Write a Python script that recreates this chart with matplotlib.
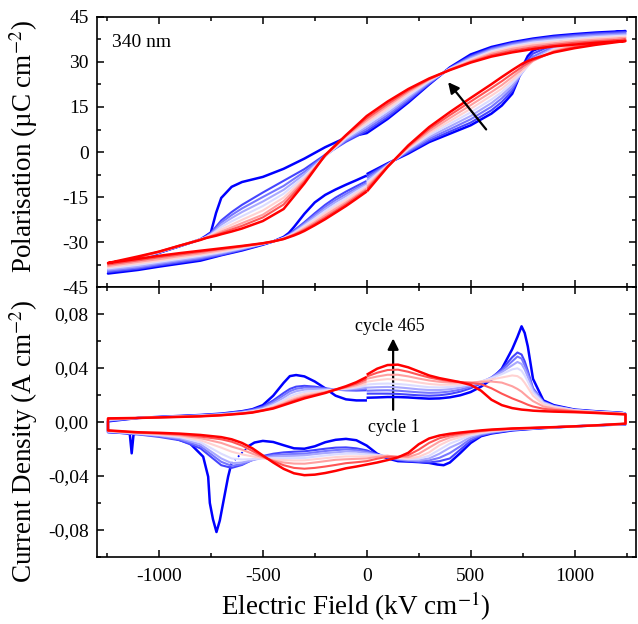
import matplotlib
matplotlib.use("Agg")
import matplotlib.pyplot as plt
from matplotlib.ticker import FixedLocator, MultipleLocator, FuncFormatter

plt.rcParams["font.family"] = ["Liberation Serif", "DejaVu Serif"]
plt.rcParams["mathtext.fontset"] = "stix"
plt.rcParams["axes.unicode_minus"] = False

# cycle 1 (blue) ... cycle 465 (red)
CYCLE_COLORS = ["#0000ff", "#4444ff", "#7777ff", "#a8a8ff", "#dcdcff",
                "#ffd2d2", "#ffa0a0", "#ff5555", "#ff0000"]

# ---------------- polarisation loops (uC cm-2) ----------------
# ascending field, -Emax -> 0
E_P_NEG = [-1245, -1100, -1000, -900, -800, -700, -600, -500, -450, -400,
           -375, -350, -325, -300, -250, -200, -150, -100, -50, -5]
P_NEG = [
    [-40.5, -39.3, -38.2, -37.2, -36.2, -34.4, -32.8, -30.9, -29.8, -28.3, -27.0, -25.0, -22.8, -20.6, -16.8, -14.3, -12.5, -10.9, -9.4, -8.0],
    [-40.0, -38.9, -37.8, -36.8, -35.8, -34.3, -32.6, -30.8, -29.8, -28.5, -27.5, -26.2, -24.8, -23.4, -20.4, -17.6, -15.2, -13.2, -11.4, -9.8],
    [-39.6, -38.5, -37.4, -36.4, -35.4, -34.0, -32.4, -30.7, -29.8, -28.6, -27.7, -26.5, -25.1, -23.8, -21.0, -18.3, -16.0, -14.0, -12.1, -10.4],
    [-39.2, -38.1, -37.0, -36.0, -35.0, -33.7, -32.2, -30.6, -29.8, -28.7, -27.8, -26.7, -25.5, -24.2, -21.6, -19.0, -16.7, -14.7, -12.6, -10.9],
    [-38.8, -37.6, -36.6, -35.6, -34.6, -33.4, -32.0, -30.6, -29.8, -28.7, -27.9, -27.0, -25.8, -24.6, -22.2, -19.7, -17.5, -15.4, -13.2, -11.4],
    [-38.4, -37.1, -36.2, -35.2, -34.2, -33.1, -31.8, -30.5, -29.8, -28.8, -28.1, -27.2, -26.2, -25.0, -22.8, -20.4, -18.2, -16.1, -13.8, -11.9],
    [-38.0, -36.6, -35.7, -34.7, -33.8, -32.7, -31.6, -30.5, -29.8, -28.9, -28.2, -27.4, -26.5, -25.5, -23.4, -21.1, -18.9, -16.8, -14.5, -12.4],
    [-37.5, -36.1, -35.1, -34.2, -33.3, -32.3, -31.4, -30.4, -29.8, -29.0, -28.3, -27.6, -26.8, -25.9, -23.9, -21.8, -19.6, -17.4, -15.0, -12.9],
    [-37.0, -35.6, -34.6, -33.7, -32.9, -32.1, -31.3, -30.4, -29.8, -29.0, -28.4, -27.8, -27.1, -26.3, -24.4, -22.4, -20.2, -18.0, -15.6, -13.4],
]
# ascending field, 0 -> +Emax
E_P_POS = [5, 100, 200, 300, 400, 500, 600, 650, 700, 725, 750, 775, 800, 900, 1000, 1100, 1245]
P_POS = [
    [-7.2, -3.8, -0.5, 3.3, 6.1, 8.9, 12.8, 15.5, 19.4, 23.5, 28.5, 32.0, 33.8, 36.4, 38.2, 39.2, 40.3],
    [-7.8, -4.0, -0.1, 3.8, 6.8, 9.8, 13.9, 16.7, 20.4, 23.8, 27.5, 30.8, 32.8, 35.8, 37.7, 38.8, 40.0],
    [-8.5, -4.2, 0.3, 4.4, 7.6, 10.9, 15.1, 17.9, 21.3, 24.0, 26.8, 29.6, 31.8, 35.2, 37.2, 38.4, 39.6],
    [-9.2, -4.4, 0.7, 5.0, 8.5, 12.0, 16.3, 19.0, 22.2, 24.4, 26.6, 28.9, 31.0, 34.7, 36.7, 38.0, 39.2],
    [-9.9, -4.5, 1.0, 5.6, 9.4, 13.2, 17.5, 20.0, 23.1, 24.9, 26.7, 28.6, 30.5, 34.3, 36.3, 37.6, 38.8],
    [-10.6, -4.6, 1.3, 6.3, 10.3, 14.4, 18.8, 21.1, 24.0, 25.6, 27.1, 28.7, 30.3, 33.9, 35.9, 37.2, 38.4],
    [-11.3, -4.7, 1.6, 6.9, 11.3, 15.6, 20.0, 22.3, 25.0, 26.4, 27.8, 29.1, 30.4, 33.6, 35.5, 36.8, 38.0],
    [-12.0, -4.9, 1.9, 7.6, 12.3, 16.8, 21.3, 23.6, 26.1, 27.3, 28.6, 29.6, 30.6, 33.4, 35.0, 36.3, 37.5],
    [-12.8, -5.0, 2.2, 8.3, 13.3, 18.0, 22.6, 25.0, 27.3, 28.4, 29.5, 30.3, 31.0, 33.2, 34.6, 35.7, 37.0],
]
# descending field, +Emax -> -Emax
E_P_DESC = [1245, 1100, 1000, 900, 800, 700, 600, 500, 400, 300, 200, 100, 0, -100, -200,
            -300, -400, -500, -600, -650, -700, -725, -750, -775, -800, -900, -1000, -1100, -1245]
P_DESC = [
    [40.3, 39.8, 39.3, 38.7, 37.8, 36.6, 35.0, 32.5, 28.2, 22.5, 16.5, 11.0, 6.3, 4.8, 1.6, -2.2, -5.6, -8.3, -10.0, -11.6, -15.3, -20.3, -26.8, -28.0, -29.1, -31.4, -33.6, -36.2, -40.5],
    [40.0, 39.5, 39.0, 38.4, 37.5, 36.3, 34.6, 32.0, 28.0, 22.7, 17.0, 11.6, 7.0, 3.4, -0.9, -5.7, -9.6, -13.5, -17.6, -20.0, -22.8, -24.9, -27.0, -28.2, -29.1, -31.4, -33.6, -36.0, -40.0],
    [39.6, 39.1, 38.6, 38.0, 37.2, 36.0, 34.3, 31.6, 27.9, 23.0, 17.6, 12.3, 7.7, 3.8, -1.2, -6.6, -11.3, -15.0, -18.8, -21.0, -23.5, -25.4, -27.2, -28.3, -29.1, -31.3, -33.5, -35.6, -39.6],
    [39.2, 38.7, 38.2, 37.6, 36.9, 35.6, 34.0, 31.3, 27.8, 23.3, 18.2, 13.0, 8.4, 4.2, -1.4, -7.4, -12.6, -16.5, -20.0, -22.0, -24.2, -25.9, -27.4, -28.4, -29.1, -31.3, -33.4, -35.4, -39.2],
    [38.8, 38.3, 37.8, 37.2, 36.5, 35.3, 33.6, 30.9, 27.7, 23.6, 18.8, 13.7, 9.1, 4.6, -1.5, -8.1, -13.9, -18.0, -21.4, -23.1, -25.0, -26.4, -27.6, -28.5, -29.1, -31.3, -33.4, -35.3, -38.8],
    [38.4, 37.9, 37.3, 36.7, 36.0, 34.9, 33.2, 30.6, 27.6, 23.9, 19.4, 14.5, 9.8, 5.0, -1.4, -8.7, -15.2, -19.5, -22.6, -24.2, -25.8, -26.9, -27.8, -28.6, -29.1, -31.2, -33.3, -35.2, -38.4],
    [38.0, 37.4, 36.9, 36.2, 35.5, 34.4, 32.8, 30.3, 27.5, 24.1, 20.0, 15.3, 10.5, 5.3, -1.3, -9.3, -16.4, -20.9, -23.7, -25.1, -26.5, -27.3, -28.0, -28.7, -29.2, -31.2, -33.3, -35.1, -38.0],
    [37.5, 36.9, 36.4, 35.7, 34.9, 33.8, 32.3, 30.0, 27.4, 24.3, 20.5, 16.0, 11.2, 5.6, -1.2, -9.9, -17.5, -21.8, -24.6, -25.8, -27.0, -27.6, -28.1, -28.7, -29.2, -31.2, -33.2, -35.0, -37.5],
    [37.0, 36.4, 35.8, 35.2, 34.3, 33.2, 31.8, 29.8, 27.3, 24.5, 21.0, 16.8, 12.0, 5.6, -1.0, -10.5, -19.0, -23.0, -25.5, -26.5, -27.4, -27.9, -28.3, -28.7, -29.3, -31.2, -33.2, -34.8, -37.0],
]

# ---------------- current density (A cm-2) ----------------
E_J_NEG = [-1245, -1100, -1000, -900, -800, -700, -600, -550, -500, -450,
           -400, -370, -340, -300, -250, -200, -150, -100, -50, -5]
J_NEG = [
    [0.0005, 0.0030, 0.0038, 0.0045, 0.0052, 0.0062, 0.0080, 0.0095, 0.0125, 0.0195, 0.0290, 0.0340, 0.0348, 0.0338, 0.0300, 0.0250, 0.0195, 0.0168, 0.0160, 0.0160],
    [0.0008, 0.0030, 0.0037, 0.0044, 0.0051, 0.0061, 0.0078, 0.0092, 0.0115, 0.0160, 0.0215, 0.0245, 0.0262, 0.0268, 0.0262, 0.0250, 0.0240, 0.0235, 0.0233, 0.0235],
    [0.0011, 0.0030, 0.0037, 0.0043, 0.0050, 0.0059, 0.0075, 0.0088, 0.0108, 0.0148, 0.0198, 0.0228, 0.0246, 0.0255, 0.0253, 0.0246, 0.0240, 0.0238, 0.0240, 0.0245],
    [0.0014, 0.0030, 0.0036, 0.0042, 0.0048, 0.0057, 0.0072, 0.0084, 0.0101, 0.0136, 0.0180, 0.0210, 0.0228, 0.0240, 0.0243, 0.0242, 0.0240, 0.0242, 0.0247, 0.0255],
    [0.0017, 0.0030, 0.0036, 0.0041, 0.0047, 0.0055, 0.0069, 0.0080, 0.0095, 0.0125, 0.0163, 0.0190, 0.0208, 0.0223, 0.0230, 0.0235, 0.0240, 0.0246, 0.0255, 0.0268],
    [0.0020, 0.0030, 0.0035, 0.0040, 0.0045, 0.0053, 0.0067, 0.0077, 0.0091, 0.0116, 0.0150, 0.0173, 0.0190, 0.0207, 0.0218, 0.0228, 0.0240, 0.0251, 0.0264, 0.0282],
    [0.0022, 0.0030, 0.0035, 0.0039, 0.0044, 0.0052, 0.0065, 0.0074, 0.0088, 0.0109, 0.0138, 0.0158, 0.0175, 0.0193, 0.0207, 0.0222, 0.0240, 0.0255, 0.0273, 0.0298],
    [0.0025, 0.0030, 0.0034, 0.0038, 0.0043, 0.0051, 0.0063, 0.0072, 0.0086, 0.0104, 0.0131, 0.0148, 0.0165, 0.0184, 0.0201, 0.0218, 0.0240, 0.0260, 0.0284, 0.0314],
    [0.0027, 0.0030, 0.0034, 0.0038, 0.0042, 0.0050, 0.0062, 0.0070, 0.0085, 0.0100, 0.0125, 0.0140, 0.0155, 0.0175, 0.0195, 0.0215, 0.0240, 0.0265, 0.0295, 0.0330],
]
E_J_POS = [5, 50, 100, 150, 200, 250, 300, 350, 400, 450, 500, 550, 600, 650, 700,
           725, 745, 760, 775, 800, 850, 900, 1000, 1100, 1230, 1245]
J_POS = [
    [0.0180, 0.0182, 0.0185, 0.0185, 0.0182, 0.0177, 0.0173, 0.0175, 0.0183, 0.0198, 0.0222, 0.0262, 0.0315, 0.0395, 0.0540, 0.0630, 0.0709, 0.0660, 0.0560, 0.0320, 0.0160, 0.0125, 0.0092, 0.0080, 0.0068, 0.0060],
    [0.0210, 0.0210, 0.0210, 0.0208, 0.0203, 0.0198, 0.0195, 0.0198, 0.0208, 0.0225, 0.0250, 0.0285, 0.0330, 0.0390, 0.0480, 0.0515, 0.0500, 0.0450, 0.0380, 0.0250, 0.0150, 0.0120, 0.0090, 0.0078, 0.0067, 0.0060],
    [0.0232, 0.0234, 0.0235, 0.0232, 0.0226, 0.0220, 0.0216, 0.0218, 0.0226, 0.0240, 0.0262, 0.0292, 0.0330, 0.0380, 0.0450, 0.0485, 0.0470, 0.0420, 0.0360, 0.0245, 0.0148, 0.0118, 0.0089, 0.0077, 0.0066, 0.0060],
    [0.0255, 0.0258, 0.0260, 0.0257, 0.0250, 0.0242, 0.0237, 0.0237, 0.0243, 0.0255, 0.0272, 0.0298, 0.0328, 0.0370, 0.0420, 0.0445, 0.0430, 0.0390, 0.0335, 0.0235, 0.0145, 0.0116, 0.0088, 0.0076, 0.0065, 0.0059],
    [0.0278, 0.0283, 0.0285, 0.0282, 0.0275, 0.0266, 0.0258, 0.0256, 0.0260, 0.0268, 0.0280, 0.0300, 0.0325, 0.0355, 0.0390, 0.0398, 0.0380, 0.0345, 0.0300, 0.0220, 0.0140, 0.0113, 0.0087, 0.0075, 0.0064, 0.0059],
    [0.0300, 0.0310, 0.0318, 0.0315, 0.0305, 0.0293, 0.0282, 0.0276, 0.0277, 0.0280, 0.0287, 0.0300, 0.0315, 0.0330, 0.0345, 0.0340, 0.0320, 0.0290, 0.0255, 0.0195, 0.0130, 0.0108, 0.0085, 0.0074, 0.0063, 0.0058],
    [0.0322, 0.0337, 0.0350, 0.0350, 0.0338, 0.0322, 0.0308, 0.0298, 0.0293, 0.0292, 0.0293, 0.0298, 0.0300, 0.0292, 0.0265, 0.0245, 0.0225, 0.0205, 0.0185, 0.0155, 0.0115, 0.0100, 0.0082, 0.0072, 0.0062, 0.0058],
    [0.0340, 0.0365, 0.0385, 0.0388, 0.0372, 0.0350, 0.0330, 0.0315, 0.0303, 0.0296, 0.0290, 0.0280, 0.0250, 0.0210, 0.0175, 0.0160, 0.0148, 0.0138, 0.0128, 0.0115, 0.0098, 0.0090, 0.0078, 0.0070, 0.0060, 0.0057],
    [0.0355, 0.0395, 0.0422, 0.0425, 0.0405, 0.0375, 0.0345, 0.0325, 0.0310, 0.0295, 0.0275, 0.0232, 0.0165, 0.0125, 0.0103, 0.0097, 0.0092, 0.0090, 0.0088, 0.0084, 0.0080, 0.0077, 0.0073, 0.0067, 0.0057, 0.0057],
]
# descending branch, cycles after the first
E_J_DESC = [1245, 1100, 1000, 900, 800, 700, 600, 550, 500, 450, 400, 350, 300, 250, 200,
            150, 100, 50, 0, -50, -100, -150, -200, -250, -300, -350, -400, -450, -500,
            -550, -600, -650, -700, -800, -900, -1000, -1100, -1245]
J_DESC = [
    [-0.0016, -0.0025, -0.0032, -0.0040, -0.0049, -0.0060, -0.0082, -0.0100, -0.0140, -0.0205, -0.0270, -0.0290, -0.0300, -0.0295, -0.0290, -0.0282, -0.0265, -0.0240, -0.0210, -0.0195, -0.0188, -0.0190, -0.0198, -0.0208, -0.0217, -0.0220, -0.0225, -0.0235, -0.0252, -0.0280, -0.0318, -0.0340, -0.0320, -0.0195, -0.0135, -0.0110, -0.0092, -0.0074],
    [-0.0016, -0.0025, -0.0032, -0.0040, -0.0048, -0.0058, -0.0078, -0.0094, -0.0125, -0.0180, -0.0230, -0.0265, -0.0285, -0.0290, -0.0285, -0.0278, -0.0260, -0.0242, -0.0220, -0.0208, -0.0203, -0.0208, -0.0215, -0.0225, -0.0235, -0.0237, -0.0240, -0.0246, -0.0258, -0.0282, -0.0312, -0.0325, -0.0295, -0.0180, -0.0128, -0.0105, -0.0090, -0.0073],
    [-0.0015, -0.0025, -0.0032, -0.0039, -0.0047, -0.0056, -0.0074, -0.0088, -0.0110, -0.0155, -0.0190, -0.0235, -0.0270, -0.0283, -0.0280, -0.0273, -0.0255, -0.0244, -0.0230, -0.0220, -0.0218, -0.0225, -0.0230, -0.0238, -0.0247, -0.0250, -0.0252, -0.0256, -0.0265, -0.0283, -0.0300, -0.0305, -0.0270, -0.0165, -0.0120, -0.0100, -0.0087, -0.0071],
    [-0.0015, -0.0025, -0.0032, -0.0039, -0.0046, -0.0054, -0.0070, -0.0082, -0.0100, -0.0130, -0.0160, -0.0205, -0.0250, -0.0272, -0.0275, -0.0268, -0.0252, -0.0246, -0.0240, -0.0235, -0.0235, -0.0240, -0.0248, -0.0257, -0.0267, -0.0268, -0.0268, -0.0268, -0.0270, -0.0275, -0.0278, -0.0270, -0.0235, -0.0150, -0.0112, -0.0096, -0.0085, -0.0069],
    [-0.0014, -0.0025, -0.0032, -0.0039, -0.0045, -0.0052, -0.0066, -0.0076, -0.0090, -0.0112, -0.0135, -0.0172, -0.0225, -0.0258, -0.0270, -0.0263, -0.0250, -0.0250, -0.0255, -0.0255, -0.0255, -0.0260, -0.0268, -0.0276, -0.0284, -0.0285, -0.0282, -0.0278, -0.0268, -0.0255, -0.0240, -0.0220, -0.0190, -0.0135, -0.0105, -0.0092, -0.0082, -0.0067],
    [-0.0013, -0.0025, -0.0032, -0.0038, -0.0044, -0.0050, -0.0062, -0.0070, -0.0082, -0.0098, -0.0115, -0.0145, -0.0190, -0.0235, -0.0260, -0.0258, -0.0250, -0.0258, -0.0270, -0.0273, -0.0276, -0.0280, -0.0290, -0.0300, -0.0309, -0.0308, -0.0300, -0.0285, -0.0262, -0.0235, -0.0205, -0.0182, -0.0155, -0.0120, -0.0098, -0.0088, -0.0080, -0.0065],
    [-0.0013, -0.0025, -0.0032, -0.0038, -0.0044, -0.0049, -0.0059, -0.0066, -0.0075, -0.0087, -0.0100, -0.0120, -0.0155, -0.0205, -0.0245, -0.0258, -0.0258, -0.0272, -0.0290, -0.0298, -0.0305, -0.0318, -0.0330, -0.0340, -0.0346, -0.0340, -0.0320, -0.0290, -0.0255, -0.0215, -0.0175, -0.0146, -0.0128, -0.0108, -0.0092, -0.0084, -0.0078, -0.0064],
    [-0.0012, -0.0025, -0.0032, -0.0038, -0.0043, -0.0048, -0.0056, -0.0062, -0.0070, -0.0078, -0.0087, -0.0100, -0.0122, -0.0165, -0.0228, -0.0262, -0.0282, -0.0300, -0.0315, -0.0330, -0.0343, -0.0362, -0.0378, -0.0390, -0.0394, -0.0380, -0.0347, -0.0300, -0.0248, -0.0195, -0.0155, -0.0128, -0.0112, -0.0096, -0.0086, -0.0080, -0.0076, -0.0062],
]
# descending branch of cycle 1: before and after the sparse (dotted) stretch
E_J_C1_A = [1245, 1100, 1000, 900, 800, 700, 600, 550, 500, 450, 400, 370, 340, 300, 250,
            200, 150, 100, 50, 0, -50, -100, -150, -200, -250, -300, -350, -400, -450,
            -500, -540, -565]
J_J_C1_A = [-0.0017, -0.0025, -0.0032, -0.0040, -0.0050, -0.0062, -0.0085, -0.0105, -0.0155,
            -0.0230, -0.0300, -0.0320, -0.0315, -0.0303, -0.0297, -0.0293, -0.0290, -0.0270,
            -0.0235, -0.0175, -0.0135, -0.0125, -0.0132, -0.0150, -0.0180, -0.0198, -0.0195,
            -0.0172, -0.0148, -0.0140, -0.0152, -0.0175]
E_J_C1_B = [-651, -667, -691, -707, -723, -740, -755, -763, -787, -851, -950, -1100,
            -1122, -1131, -1140, -1160, -1245]
J_J_C1_B = [-0.0306, -0.0405, -0.0600, -0.0730, -0.0815, -0.0720, -0.0600, -0.0405, -0.0257,
            -0.0158, -0.0108, -0.0085, -0.0090, -0.0232, -0.0090, -0.0082, -0.0075]


def style_axes(ax):
    ax.tick_params(which="both", direction="in", top=True, right=True,
                   width=1.1, labelsize=14)
    ax.tick_params(which="major", length=5)
    ax.tick_params(which="minor", length=3)
    ax.tick_params(axis="y", pad=6)
    ax.tick_params(axis="x", pad=8)
    for s in ax.spines.values():
        s.set_linewidth(1.2)
    ax.set_xlim(-1298, 1296)
    ax.xaxis.set_major_locator(FixedLocator([-1000, -500, 0, 500, 1000]))
    ax.xaxis.set_minor_locator(MultipleLocator(250))


fig = plt.figure(figsize=(6.38, 6.24), dpi=100)
ax1 = fig.add_axes([0.152, 0.54, 0.845, 0.4328])
ax2 = fig.add_axes([0.152, 0.1074, 0.845, 0.4326])

n = len(CYCLE_COLORS)
for k in range(n):
    lw = 1.8 if k in (0, n - 1) else 1.5
    c = CYCLE_COLORS[k]
    # polarisation: 0 -> +Emax -> -Emax -> 0 (gap left at the start point)
    xs = E_P_POS + E_P_DESC + E_P_NEG
    ys = P_POS[k] + P_DESC[k] + P_NEG[k]
    ax1.plot(xs, ys, color=c, lw=lw, solid_joinstyle="round", zorder=2)
    # current density
    if k == 0:
        ax2.plot(E_J_POS + E_J_C1_A, J_POS[0] + J_J_C1_A, color=c, lw=lw, zorder=2)
        ax2.plot(E_J_C1_B + E_J_NEG, J_J_C1_B + J_NEG[0], color=c, lw=lw, zorder=2)
        ax2.plot([E_J_C1_A[-1], E_J_C1_B[0]], [J_J_C1_A[-1], J_J_C1_B[0]],
                 color=c, lw=1.3, ls=(0, (1, 1.6)), zorder=2)
    else:
        ax2.plot(E_J_POS + E_J_DESC + E_J_NEG, J_POS[k] + J_DESC[k - 1] + J_NEG[k],
                 color=c, lw=lw, solid_joinstyle="round", zorder=2)

# top panel
style_axes(ax1)
ax1.set_ylim(-45, 45)
ax1.yaxis.set_major_locator(FixedLocator([-45, -30, -15, 0, 15, 30, 45]))
ax1.yaxis.set_minor_locator(MultipleLocator(7.5))
ax1.tick_params(axis="x", labelbottom=False)
ax1.set_ylabel("Polarisation (µC cm$^{-2}$)", fontsize=19.5)
ax1.yaxis.set_label_coords(-0.105, 0.52)
ax1.text(0.028, 0.907, "340 nm", transform=ax1.transAxes, fontsize=14,
         ha="left", va="center")
ax1.annotate("", xy=(383, 24), xytext=(583, 6.8),
             arrowprops=dict(arrowstyle="-|>", color="k", lw=1.6, mutation_scale=16),
             zorder=5)

# bottom panel
style_axes(ax2)
ax2.set_ylim(-0.1, 0.1)
ax2.yaxis.set_major_locator(FixedLocator([-0.08, -0.04, 0.0, 0.04, 0.08]))
ax2.yaxis.set_minor_locator(MultipleLocator(0.02))
ax2.yaxis.set_major_formatter(FuncFormatter(lambda v, _: f"{v:.2f}".replace(".", ",")))
ax2.set_ylabel("Current Density (A cm$^{-2}$)", fontsize=19.5)
ax2.yaxis.set_label_coords(-0.105, 0.43)
ax2.set_xlabel("Electric Field (kV cm$^{-1}$)", fontsize=19.5)
ax2.xaxis.set_label_coords(0.48, -0.122)
ax2.annotate("", xy=(127, 0.064), xytext=(127, 0.007),
             arrowprops=dict(arrowstyle="-|>", color="k", lw=1.6, mutation_scale=16),
             zorder=1)
ax2.text(110, 0.0704, "cycle 465", fontsize=13, ha="center", va="center")
ax2.text(130, -0.0037, "cycle 1", fontsize=13, ha="center", va="center")

fig.savefig("out.png", dpi=100)
